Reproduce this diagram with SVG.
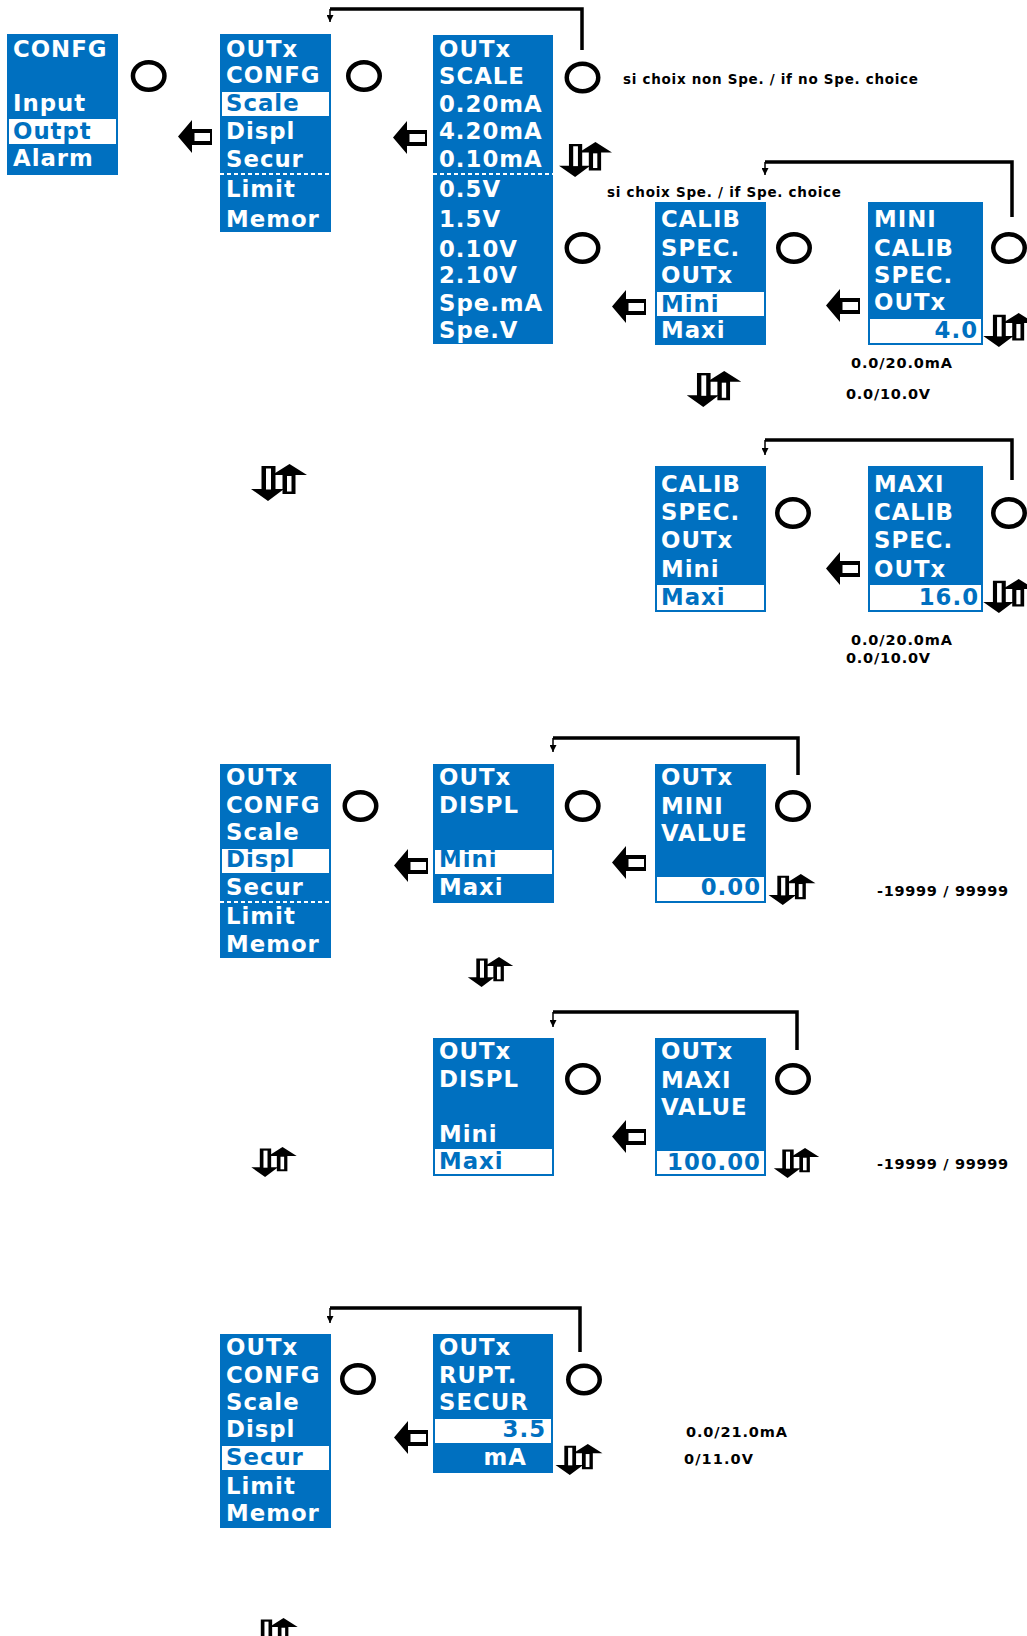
<svg xmlns="http://www.w3.org/2000/svg" width="1027" height="1636" viewBox="0 0 1027 1636">
<style>
.box{fill:#0070c0}
.hl{fill:#fff;stroke:#0070c0;stroke-width:2}
.t{font-family:"DejaVu Sans",Verdana,sans-serif;font-weight:bold;font-size:22.8px;letter-spacing:1px;fill:#fff}
.b{fill:#0070c0}
.e{text-anchor:end}
.dash{stroke:#fff;stroke-width:2;stroke-dasharray:4 3}
.btn{fill:none;stroke:#000;stroke-width:4.5}
.lbl{font-family:"DejaVu Sans",Verdana,sans-serif;font-weight:bold;font-size:13.5px;fill:#000}
.num{font-size:14.5px}
.loop{fill:none;stroke:#000;stroke-width:3.5}
.drop{fill:none;stroke:#000;stroke-width:1.5;marker-end:url(#ah)}
</style>
<defs>
<marker id="ah" viewBox="0 0 7 7" markerWidth="7" markerHeight="7" refX="7" refY="3.5" orient="auto" markerUnits="userSpaceOnUse"><path d="M0 0L7 3.5L0 7Z"/></marker>
<symbol id="la" viewBox="0 0 34 33"><path d="M0 16.5L14 0V9H34V25H14V33Z"/><rect x="16.5" y="13" width="15.5" height="8" fill="#fff"/></symbol>
<symbol id="ud" viewBox="0 0 56 37"><path d="M10.5 2H24.5V25H33L17 37L0 25H10.5Z"/><rect x="15" y="4.5" width="5" height="21" fill="#fff"/><path d="M21 11L38.5 0L56 11H44.5V30H31.5V11Z"/><rect x="36" y="12" width="4.5" height="15.5" fill="#fff"/></symbol>
</defs>

<g id="connectors">
<path class="loop" d="M582 50V9H330"/><path class="drop" d="M330 9V22"/>
<path class="loop" d="M1012 217V162H765"/><path class="drop" d="M765 162V175"/>
<path class="loop" d="M1012 480V440H765"/><path class="drop" d="M765 440V455"/>
<path class="loop" d="M798 775V738H553"/><path class="drop" d="M553 738V752"/>
<path class="loop" d="M797 1050V1012H553"/><path class="drop" d="M553 1012V1027"/>
<path class="loop" d="M580 1352V1308H330"/><path class="drop" d="M330 1308V1323"/>
</g>

<g id="n-confg">
<rect class="box" x="7" y="34" width="111" height="141"/>
<rect class="hl" x="8" y="118" width="109" height="27"/>
<text class="t" x="13" y="57">CONFG</text>
<text class="t" x="13" y="111">Input</text>
<text class="t b" x="13" y="139">Outpt</text>
<text class="t" x="13" y="166">Alarm</text>
</g>

<g id="n-outx-config-1">
<rect class="box" x="220" y="34" width="111" height="198"/>
<rect class="hl" x="221" y="91" width="109" height="26"/>
<text class="t" x="226" y="57">OUTx</text>
<text class="t" x="226" y="83">CONFG</text>
<text class="t b" x="226" y="111">Scale</text>
<text class="t" x="226" y="139">Displ</text>
<text class="t" x="226" y="167">Secur</text>
<line class="dash" x1="220" y1="174" x2="331" y2="174"/>
<text class="t" x="226" y="197">Limit</text>
<text class="t" x="226" y="227">Memor</text>
</g>

<g id="n-outx-scale">
<rect class="box" x="433" y="35" width="120" height="309"/>
<text class="t" x="439" y="57">OUTx</text>
<text class="t" x="439" y="84">SCALE</text>
<text class="t" x="439" y="112">0.20mA</text>
<text class="t" x="439" y="139">4.20mA</text>
<text class="t" x="439" y="167">0.10mA</text>
<line class="dash" x1="433" y1="174" x2="553" y2="174"/>
<text class="t" x="439" y="197">0.5V</text>
<text class="t" x="439" y="227">1.5V</text>
<text class="t" x="439" y="257">0.10V</text>
<text class="t" x="439" y="283">2.10V</text>
<text class="t" x="439" y="311">Spe.mA</text>
<text class="t" x="439" y="338">Spe.V</text>
</g>

<g id="n-calib-spec-1">
<rect class="box" x="655" y="202" width="111" height="143"/>
<rect class="hl" x="656" y="291" width="109" height="26"/>
<text class="t" x="661" y="227">CALIB</text>
<text class="t" x="661" y="256">SPEC.</text>
<text class="t" x="661" y="283">OUTx</text>
<text class="t b" x="661" y="312">Mini</text>
<text class="t" x="661" y="338">Maxi</text>
</g>

<g id="n-mini-calib">
<rect class="box" x="868" y="202" width="115" height="143"/>
<rect class="hl" x="869" y="318" width="113" height="26"/>
<text class="t" x="874" y="227">MINI</text>
<text class="t" x="874" y="256">CALIB</text>
<text class="t" x="874" y="283">SPEC.</text>
<text class="t" x="874" y="310">OUTx</text>
<text class="t b e" x="978" y="338">4.0</text>
</g>

<g id="n-calib-spec-2">
<rect class="box" x="655" y="466" width="111" height="146"/>
<rect class="hl" x="656" y="584" width="109" height="27"/>
<text class="t" x="661" y="492">CALIB</text>
<text class="t" x="661" y="520">SPEC.</text>
<text class="t" x="661" y="548">OUTx</text>
<text class="t" x="661" y="577">Mini</text>
<text class="t b" x="661" y="605">Maxi</text>
</g>

<g id="n-maxi-calib">
<rect class="box" x="868" y="466" width="115" height="146"/>
<rect class="hl" x="869" y="584" width="113" height="27"/>
<text class="t" x="874" y="492">MAXI</text>
<text class="t" x="874" y="520">CALIB</text>
<text class="t" x="874" y="548">SPEC.</text>
<text class="t" x="874" y="577">OUTx</text>
<text class="t b e" x="979" y="605">16.0</text>
</g>

<g id="n-outx-config-2">
<rect class="box" x="220" y="764" width="111" height="194"/>
<rect class="hl" x="221" y="848" width="109" height="26"/>
<text class="t" x="226" y="785">OUTx</text>
<text class="t" x="226" y="813">CONFG</text>
<text class="t" x="226" y="840">Scale</text>
<text class="t b" x="226" y="867">Displ</text>
<text class="t" x="226" y="895">Secur</text>
<line class="dash" x1="220" y1="902" x2="331" y2="902"/>
<text class="t" x="226" y="924">Limit</text>
<text class="t" x="226" y="952">Memor</text>
</g>

<g id="n-outx-displ-1">
<rect class="box" x="433" y="764" width="121" height="139"/>
<rect class="hl" x="434" y="849" width="119" height="26"/>
<text class="t" x="439" y="785">OUTx</text>
<text class="t" x="439" y="813">DISPL</text>
<text class="t b" x="439" y="867">Mini</text>
<text class="t" x="439" y="895">Maxi</text>
</g>

<g id="n-mini-value">
<rect class="box" x="655" y="764" width="111" height="139"/>
<rect class="hl" x="656" y="876" width="109" height="26"/>
<text class="t" x="661" y="785">OUTx</text>
<text class="t" x="661" y="814">MINI</text>
<text class="t" x="661" y="841">VALUE</text>
<text class="t b e" x="761" y="895">0.00</text>
</g>

<g id="n-outx-displ-2">
<rect class="box" x="433" y="1038" width="121" height="138"/>
<rect class="hl" x="434" y="1148" width="119" height="27"/>
<text class="t" x="439" y="1059">OUTx</text>
<text class="t" x="439" y="1087">DISPL</text>
<text class="t" x="439" y="1142">Mini</text>
<text class="t b" x="439" y="1169">Maxi</text>
</g>

<g id="n-maxi-value">
<rect class="box" x="655" y="1038" width="111" height="138"/>
<rect class="hl" x="656" y="1150" width="109" height="25"/>
<text class="t" x="661" y="1059">OUTx</text>
<text class="t" x="661" y="1088">MAXI</text>
<text class="t" x="661" y="1115">VALUE</text>
<text class="t b e" x="761" y="1170">100.00</text>
</g>

<g id="n-outx-config-3">
<rect class="box" x="220" y="1334" width="111" height="194"/>
<rect class="hl" x="221" y="1445" width="109" height="26"/>
<text class="t" x="226" y="1355">OUTx</text>
<text class="t" x="226" y="1383">CONFG</text>
<text class="t" x="226" y="1410">Scale</text>
<text class="t" x="226" y="1437">Displ</text>
<text class="t b" x="226" y="1465">Secur</text>
<text class="t" x="226" y="1494">Limit</text>
<text class="t" x="226" y="1521">Memor</text>
</g>

<g id="n-rupt-secur">
<rect class="box" x="433" y="1334" width="120" height="139"/>
<rect class="hl" x="434" y="1418" width="118" height="26"/>
<text class="t" x="439" y="1355">OUTx</text>
<text class="t" x="439" y="1383">RUPT.</text>
<text class="t" x="439" y="1410">SECUR</text>
<text class="t b e" x="546" y="1437">3.5</text>
<text class="t e" x="527" y="1465">mA</text>
</g>

<g id="buttons">
<ellipse class="btn" cx="148.7" cy="76" rx="15.75" ry="13.75"/>
<ellipse class="btn" cx="364" cy="76" rx="15.75" ry="13.75"/>
<ellipse class="btn" cx="582.5" cy="77.5" rx="15.75" ry="13.75"/>
<ellipse class="btn" cx="582.5" cy="248" rx="15.75" ry="13.75"/>
<ellipse class="btn" cx="794" cy="248" rx="15.75" ry="13.75"/>
<ellipse class="btn" cx="1009" cy="248" rx="15.75" ry="13.75"/>
<ellipse class="btn" cx="793" cy="513" rx="15.75" ry="13.75"/>
<ellipse class="btn" cx="1009" cy="513" rx="15.75" ry="13.75"/>
<ellipse class="btn" cx="360.5" cy="806" rx="15.75" ry="13.75"/>
<ellipse class="btn" cx="582.7" cy="806" rx="15.75" ry="13.75"/>
<ellipse class="btn" cx="793" cy="806" rx="15.75" ry="13.75"/>
<ellipse class="btn" cx="583" cy="1079" rx="15.75" ry="13.75"/>
<ellipse class="btn" cx="793" cy="1079" rx="15.75" ry="13.75"/>
<ellipse class="btn" cx="358" cy="1379" rx="15.75" ry="13.75"/>
<ellipse class="btn" cx="584" cy="1379.5" rx="15.75" ry="13.75"/>
</g>

<g id="back-arrows">
<use href="#la" x="178" y="120" width="34" height="33"/>
<use href="#la" x="393" y="121" width="34" height="33"/>
<use href="#la" x="612" y="290" width="34" height="33"/>
<use href="#la" x="826" y="289" width="34" height="33"/>
<use href="#la" x="826" y="552" width="34" height="33"/>
<use href="#la" x="394" y="849" width="34" height="33"/>
<use href="#la" x="612" y="846" width="34" height="33"/>
<use href="#la" x="612" y="1120" width="34" height="33"/>
<use href="#la" x="394" y="1421" width="34" height="33"/>
</g>

<g id="updown-arrows">
<use href="#ud" x="558" y="142" width="55" height="35"/>
<use href="#ud" x="983" y="313" width="52" height="34"/>
<use href="#ud" x="686" y="371" width="56" height="36"/>
<use href="#ud" x="251" y="464" width="56" height="37"/>
<use href="#ud" x="983" y="579" width="52" height="34"/>
<use href="#ud" x="767" y="874" width="50" height="31"/>
<use href="#ud" x="464" y="957" width="53" height="30"/>
<use href="#ud" x="247" y="1147" width="54" height="30"/>
<use href="#ud" x="770" y="1148" width="53" height="30"/>
<use href="#ud" x="553" y="1444" width="52" height="31"/>
<use href="#ud" x="250" y="1618" width="50" height="30"/>
</g>

<g id="labels">
<text class="lbl" x="623" y="84" textLength="295">si choix non Spe. / if no Spe. choice</text>
<text class="lbl" x="607" y="197" textLength="234">si choix Spe. / if Spe. choice</text>
<text class="lbl num" x="851" y="368" textLength="101">0.0/20.0mA</text>
<text class="lbl num" x="846" y="399" textLength="84">0.0/10.0V</text>
<text class="lbl num" x="851" y="645" textLength="101">0.0/20.0mA</text>
<text class="lbl num" x="846" y="663" textLength="84">0.0/10.0V</text>
<text class="lbl num" x="877" y="896" textLength="131">-19999 / 99999</text>
<text class="lbl num" x="877" y="1169" textLength="131">-19999 / 99999</text>
<text class="lbl num" x="686" y="1437" textLength="101">0.0/21.0mA</text>
<text class="lbl num" x="684" y="1464" textLength="69">0/11.0V</text>
</g>
</svg>
